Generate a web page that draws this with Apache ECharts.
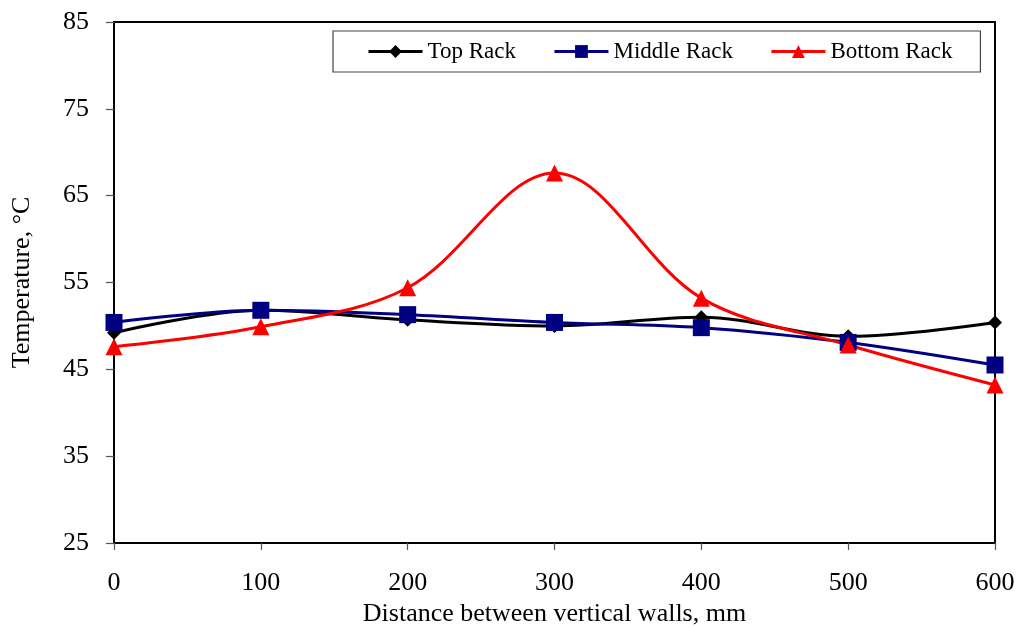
<!DOCTYPE html>
<html>
<head>
<meta charset="utf-8">
<script src="https://cdn.jsdelivr.net/npm/echarts@6/dist/echarts.min.js"></script>
<style>
  html, body { margin: 0; padding: 0; background: #fff; }
  #chart { width: 1019px; height: 628px; }
</style>
</head>
<body>
<div id="chart"></div>
<script>
// Distance positions (mm) along the x axis
const distances = [0, 100, 200, 300, 400, 500, 600];
// Temperatures (°C) at each distance for each rack
const topRack = [49.2, 51.8, 50.7, 50.0, 51.0, 48.8, 50.4];
const middleRack = [50.4, 51.8, 51.3, 50.4, 49.8, 48.1, 45.5];
const bottomRack = [47.6, 49.9, 54.4, 67.6, 53.2, 47.8, 43.2];
const seriesNames = ['Top Rack', 'Middle Rack', 'Bottom Rack'];

const font = 'Liberation Serif, Times New Roman, serif';
const pair = (arr) => distances.map((d, i) => [d, arr[i]]);

const chart = echarts.init(document.getElementById('chart'), null, { renderer: 'canvas' });

function lineSeries(name, data, color, symbol, size) {
  return {
    name: name,
    type: 'line',
    data: pair(data),
    smooth: 0.35,
    symbol: symbol,
    symbolSize: size,
    showAllSymbol: true,
    lineStyle: { color: color, width: 3 },
    itemStyle: { color: color },
    z: 3
  };
}

chart.setOption({
  animation: false,
  backgroundColor: '#ffffff',
  textStyle: { fontFamily: font },
  grid: {
    left: 114, right: 24, top: 22, bottom: 85,
    outerBoundsMode: 'none',
    show: true, borderColor: '#000', borderWidth: 2, backgroundColor: 'transparent'
  },
  legend: {
    top: 31,
    left: 333,
    padding: [9, 28, 9, 34],
    itemGap: 37,
    itemWidth: 54,
    itemHeight: 16,
    lineStyle: { width: 3 },
    borderColor: '#444',
    borderWidth: 1.2,
    backgroundColor: '#fff',
    textStyle: { fontFamily: font, fontSize: 23, color: '#000' },
    data: seriesNames
  },
  xAxis: {
    type: 'value',
    min: 0,
    max: 600,
    interval: 100,
    name: 'Distance between vertical walls, mm',
    nameLocation: 'middle',
    nameGap: 53,
    nameTextStyle: { fontFamily: font, fontSize: 26, color: '#000' },
    axisLine: { lineStyle: { color: '#000', width: 2 } },
    axisTick: { show: true, length: 7, inside: false, lineStyle: { color: '#555', width: 1.2 } },
    axisLabel: { fontFamily: font, fontSize: 26, color: '#000', margin: 27 },
    splitLine: { show: false }
  },
  yAxis: {
    type: 'value',
    min: 25,
    max: 85,
    interval: 10,
    name: 'Temperature, °C',
    nameLocation: 'middle',
    nameGap: 79,
    nameRotate: 90,
    nameTextStyle: { fontFamily: font, fontSize: 26, color: '#000' },
    axisLine: { lineStyle: { color: '#000', width: 2 } },
    axisTick: { show: true, length: 8, inside: false, lineStyle: { color: '#555', width: 1.2 } },
    axisLabel: { fontFamily: font, fontSize: 26, color: '#000', margin: 25 },
    splitLine: { show: false }
  },
  series: [
    lineSeries(seriesNames[0], topRack, '#000000', 'diamond', 14),
    lineSeries(seriesNames[1], middleRack, '#000080', 'rect', 17),
    lineSeries(seriesNames[2], bottomRack, '#ff0000', 'triangle', 17)
  ]
});
</script>
</body>
</html>
